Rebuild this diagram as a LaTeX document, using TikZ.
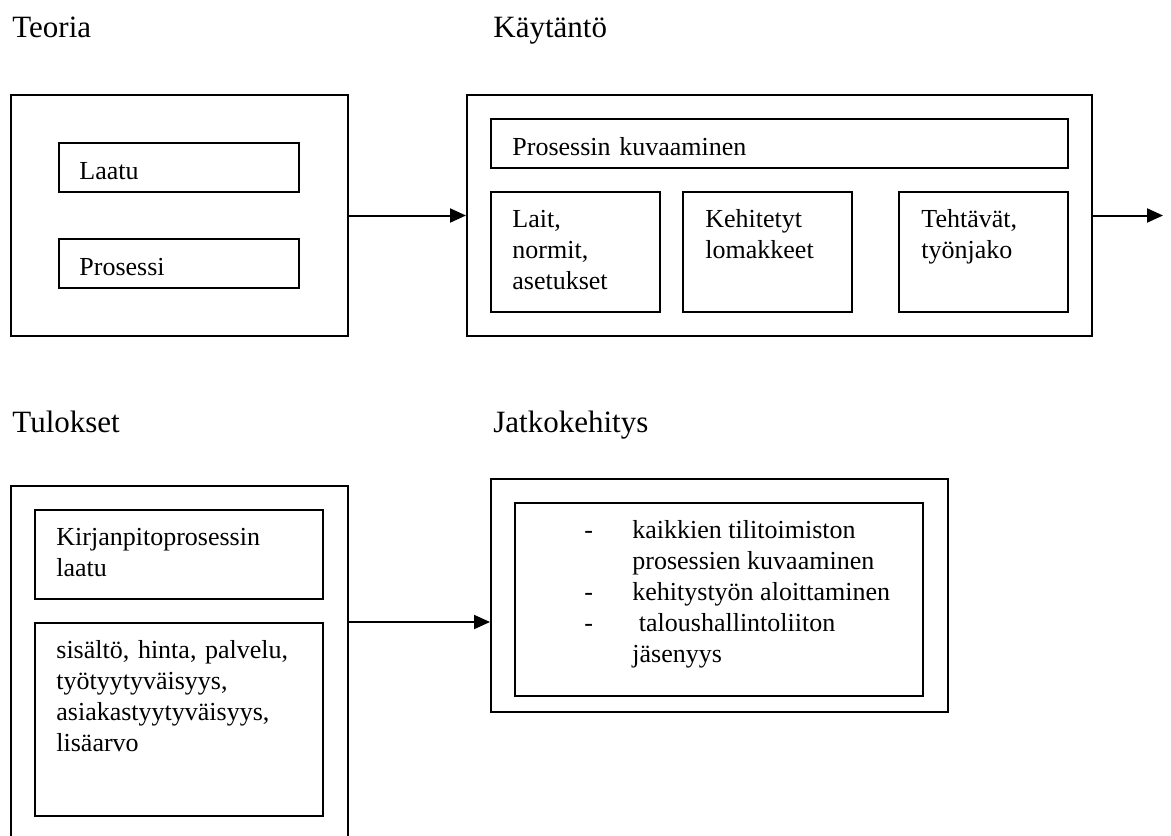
\documentclass[tikz,border=0pt]{standalone}
\usepackage{fontspec}
\setmainfont{Liberation Serif}
\usetikzlibrary{arrows.meta,positioning,calc}

\begin{document}
\begin{tikzpicture}[
    x=0.5pt, y=-0.5pt,
    outerbox/.style={rectangle, draw, line width=1pt, inner sep=0pt},
    innerbox/.style={rectangle, draw, line width=1pt, inner sep=0pt, minimum height=24.5pt},
    title/.style={anchor=base west, inner sep=0pt, font=\fontsize{15.5}{18}\selectfont},
    txt/.style={anchor=base west, inner sep=0pt, align=left, text width=150pt, font=\fontsize{13}{15.5}\selectfont},
    flow/.style={-{Triangle[length=8pt,width=7pt]}, line width=1pt}
]
\useasboundingbox (0,0) rectangle (1171,835);
\clip (0,0) rectangle (1171,835);

% Titles
\node[title] (tteoria) at (12,37) {Teoria};
\node[title] (tkaytanto) at (493,37) {Käytäntö};
\node[title] (ttulokset) at (12,432) {Tulokset};
\node[title] (tjatko) at (493,432) {Jatkokehitys};

% Teoria
\node[outerbox, minimum width=168.5pt, minimum height=120.5pt] (teoria) at (179.5,215.5) {};
\node[innerbox, minimum width=120pt] (laatu) at (179,167.5) {};
\node[innerbox, minimum width=120pt] (prosessi) at (179,263.5) {};
\node[txt] (xlaatu) at (79,179) {Laatu};
\node[txt] (xprosessi) at (79,275) {Prosessi};

% Kaytanto
\node[outerbox, minimum width=312.5pt, minimum height=120.5pt] (kaytanto) at (779.5,215.5) {};
\node[innerbox, minimum width=288.5pt] (kuvaus) at (779.5,143.5) {};
\node[innerbox, minimum width=84.5pt, minimum height=60pt] (lait) at (575.5,252) {};
\node[innerbox, minimum width=84.5pt, minimum height=60pt] (lomakkeet) at (767.5,252) {};
\node[innerbox, minimum width=84.5pt, minimum height=60pt] (tehtavat) at (983.5,252) {};
\node[txt] (xkuvaus) at (512,155) {Prosessin kuvaaminen};
\node[txt] (xlait) at (512,227) {Lait,\\normit,\\asetukset};
\node[txt] (xlomakkeet) at (705,227) {Kehitetyt\\lomakkeet};
\node[txt] (xtehtavat) at (921,227) {Tehtävät,\\työnjako};
\coordinate (out) at (1163,215.5);

% Tulokset
\node[outerbox, minimum width=168.5pt, minimum height=197pt] (tulokset) at (179.5,683) {};
\node[innerbox, minimum width=144pt, minimum height=44.5pt] (laatuk) at (179,554.5) {};
\node[innerbox, minimum width=144pt, minimum height=96.5pt] (sisalto) at (179,719.5) {};
\node[txt] (xlaatuk) at (56,545) {Kirjanpitoprosessin\\laatu};
\node[txt] (xsisalto) at (56,658) {sisältö, hinta, palvelu,\\työtyytyväisyys,\\asiakastyytyväisyys,\\lisäarvo};

% Jatkokehitys
\node[outerbox, minimum width=228.5pt, minimum height=116.5pt] (jatko) at (719.5,595.5) {};
\node[innerbox, minimum width=204pt, minimum height=96.5pt] (lista) at (719,599.5) {};
\node[txt, text width=] (xlista) at (584,538) {%
  \begin{tabular}[t]{@{}p{24pt}@{}l@{}}
  - & kaikkien tilitoimiston\\
    & prosessien kuvaaminen\\
  - & kehitystyön aloittaminen\\
  - & \ taloushallintoliiton\\
    & jäsenyys
  \end{tabular}};

% Arrows
\draw[flow] (teoria) -- (kaytanto);
\draw[flow] (kaytanto) -- (out);
\draw[flow] (tulokset.east |- sisalto.north) -- (jatko.west |- sisalto.north);

\end{tikzpicture}
\end{document}
